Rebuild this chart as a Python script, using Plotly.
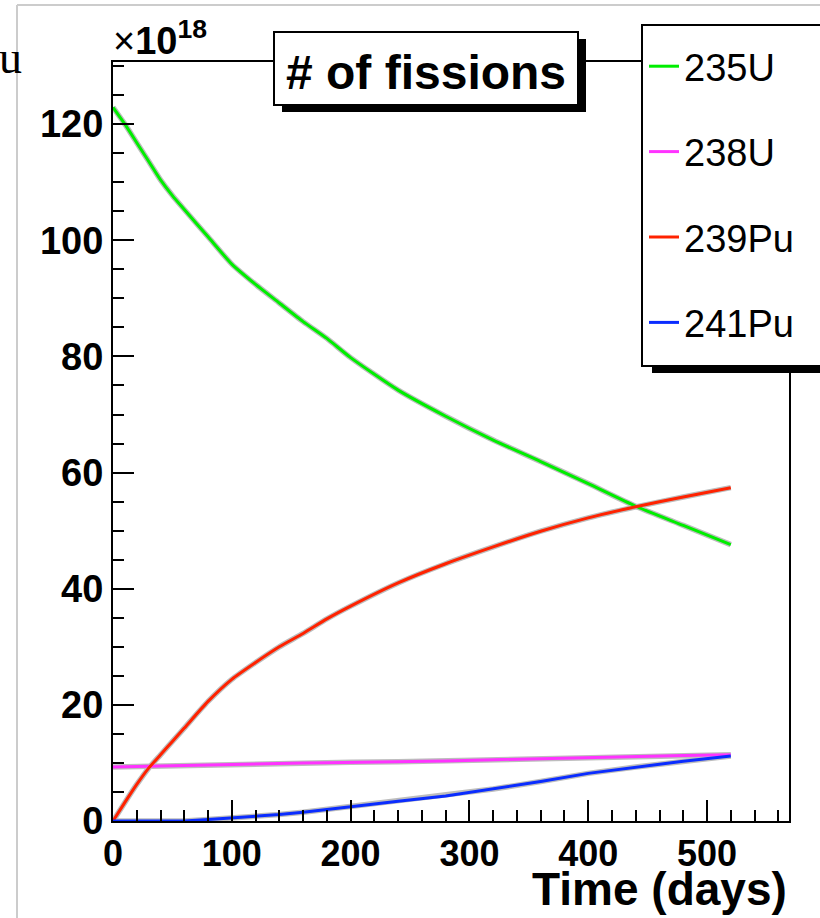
import plotly.graph_objects as go

# ---------------- data ----------------
days = [0, 10, 20, 30, 40, 50, 60, 80, 100, 120, 140, 160, 180, 200,
        240, 280, 320, 360, 400, 440, 480, 520]
u235 = [122.9, 120.0, 116.8, 113.6, 110.4, 107.7, 105.3, 100.6, 95.9, 92.4,
        89.2, 86.0, 83.1, 79.8, 74.2, 69.7, 65.6, 61.9, 58.1, 54.2, 50.9, 47.6]
u238 = [9.3, 9.35, 9.4, 9.45, 9.5, 9.55, 9.6, 9.7, 9.8, 9.9, 9.95, 10.0,
        10.05, 10.1, 10.2, 10.35, 10.55, 10.75, 10.95, 11.15, 11.3, 11.4]
pu239 = [0.0, 3.2, 6.3, 9.1, 11.4, 13.7, 16.0, 20.6, 24.4, 27.3, 30.0, 32.3,
         34.8, 37.0, 41.0, 44.3, 47.2, 49.9, 52.2, 54.1, 55.8, 57.4]
pu241 = [0.0, 0.0, 0.0, 0.0, 0.0, 0.0, 0.0, 0.25, 0.5, 0.75, 1.1, 1.5, 2.0,
         2.5, 3.4, 4.3, 5.5, 6.8, 8.2, 9.3, 10.3, 11.2]

series_names = ["235U", "238U", "239Pu", "241Pu"]
series_values = [u235, u238, pu239, pu241]
series_colors = ["#00ee00", "#ff33ff", "#ff2200", "#0a2cff"]
series_shapes = ["spline", "linear", "spline", "linear"]

title_text = "# of fissions"
x_title = "Time (days)"
x_range = [0, 569]
y_range = [0, 130.7]

# ---------------- layout helpers (pixel -> paper) ----------------
W, H = 820, 918
L, R, T, B = 113, 789, 62, 821


def px(x):
    return (x - L) / (R - L)


def py(y):
    return (B - y) / (B - T)


FONT = "Liberation Sans, Arial, Helvetica, sans-serif"

fig = go.Figure()
# soft grey halo under each curve (as in the reference rendering)
for vals, shp in zip(series_values, series_shapes):
    fig.add_trace(go.Scatter(x=days, y=vals, mode="lines",
                             line=dict(color="#bdbdbd", width=5.5, shape=shp,
                                       smoothing=0.6),
                             showlegend=False, hoverinfo="skip"))
for name, vals, col, shp in zip(series_names, series_values, series_colors,
                                series_shapes):
    fig.add_trace(go.Scatter(x=days, y=vals, mode="lines", name=name,
                             legendgroup=name,
                             line=dict(color=col, width=3, shape=shp,
                                       smoothing=0.6)))

axis_common = dict(showgrid=False, zeroline=False, showline=True,
                   linecolor="black", linewidth=2, mirror=True,
                   ticks="inside", ticklen=21, tickwidth=2, tickcolor="black")

fig.update_layout(
    width=W, height=H,
    margin=dict(l=L, r=W - R, t=T, b=H - B, autoexpand=False),
    paper_bgcolor="white", plot_bgcolor="white",
    xaxis=dict(range=x_range, tick0=0, dtick=100,
               minor=dict(dtick=20, ticks="inside", ticklen=11, tickwidth=2,
                          tickcolor="black"),
               tickfont=dict(family=FONT, size=36, color="black",
                             weight="bold"),
               **axis_common),
    yaxis=dict(range=y_range, tick0=0, dtick=20,
               minor=dict(dtick=5, ticks="inside", ticklen=11, tickwidth=2,
                          tickcolor="black"),
               tickfont=dict(family=FONT, size=38, color="black",
                             weight="bold"),
               **axis_common),
    legend=dict(x=px(644), xanchor="left", y=py(35), yanchor="top",
                bgcolor="rgba(0,0,0,0)", borderwidth=0,
                font=dict(family=FONT, size=38, color="black"),
                tracegroupgap=33, traceorder="grouped", itemwidth=30),
    showlegend=True,
)

shapes = [
    # grey page border (screenshot crop)
    dict(type="line", xref="paper", yref="paper", x0=px(17), x1=px(17),
         y0=py(5), y1=py(930), line=dict(color="#cccccc", width=2)),
    dict(type="line", xref="paper", yref="paper", x0=px(17), x1=px(840),
         y0=py(5), y1=py(5), line=dict(color="#cccccc", width=2)),
    # title box with shadow
    dict(type="rect", xref="paper", yref="paper", x0=px(282), x1=px(586),
         y0=py(112), y1=py(39), fillcolor="black", line=dict(width=0)),
    dict(type="rect", xref="paper", yref="paper", x0=px(274), x1=px(578),
         y0=py(105), y1=py(32), fillcolor="white",
         line=dict(color="black", width=2)),
    # legend box with shadow
    dict(type="rect", xref="paper", yref="paper", x0=px(652), x1=px(850),
         y0=py(373), y1=py(33), fillcolor="black", line=dict(width=0)),
    dict(type="rect", xref="paper", yref="paper", x0=px(642), x1=px(850),
         y0=py(366), y1=py(25), fillcolor="white",
         line=dict(color="black", width=2)),
]
fig.update_layout(shapes=shapes)

annotations = [
    dict(text="<b>" + title_text + "</b>", x=px(426), y=py(72),
         xanchor="center", yanchor="middle",
         font=dict(family=FONT, size=48, color="black")),
    dict(text="×<b>10</b><sup><b>18</b></sup>", x=px(111), y=py(38),
         xanchor="left", yanchor="middle",
         font=dict(family=FONT, size=38, color="black")),
    dict(text="<b>" + x_title + "</b>", x=px(789), y=py(917),
         xanchor="right", yanchor="bottom",
         font=dict(family=FONT, size=46, color="black")),
    dict(text="u", x=px(-3), y=py(58), xanchor="left", yanchor="middle",
         font=dict(family="Liberation Serif, Times New Roman, serif",
                   size=46, color="black")),
]
for a in annotations:
    a.update(xref="paper", yref="paper", showarrow=False)
fig.update_layout(annotations=annotations)

fig.write_html(
    "out.html",
    config={"displayModeBar": False},
    post_script="document.body.style.margin='0px';"
                "document.body.style.padding='0px';"
                "document.body.style.overflow='hidden';",
)
